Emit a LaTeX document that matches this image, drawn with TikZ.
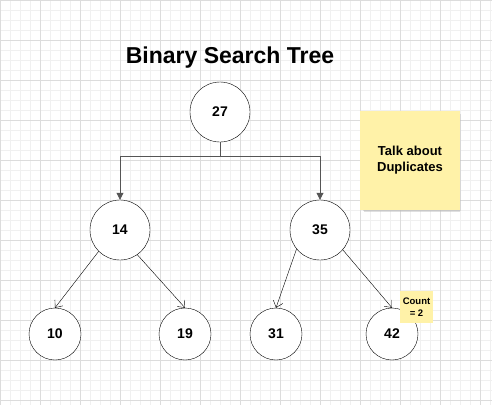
\documentclass[tikz,border=0pt]{standalone}
\usepackage{fontspec}
\setmainfont{Liberation Sans}
\definecolor{gridminor}{RGB}{240, 240, 240}
\definecolor{gridmajor}{RGB}{220, 220, 220}
\definecolor{noteyellow}{RGB}{255, 242, 168}
\definecolor{elbowgray}{RGB}{85, 85, 85}
\usetikzlibrary{arrows.meta, positioning, shadows}
\tikzset{
    treenode/.style={draw, circle, thin, fill=white, minimum size=60pt, inner sep=0pt, font=\fontsize{14}{16}\selectfont\bfseries},
    leafnode/.style={treenode, minimum size=52pt},
    stickynote/.style={rectangle, fill=noteyellow, minimum width=100pt, minimum height=99pt, align=center, font=\fontsize{13}{16}\selectfont\bfseries,
        drop shadow={shadow xshift=2pt, shadow yshift=-4pt, shadow scale=0.96, fill=black!25, opacity=0.5},
        drop shadow={shadow xshift=2pt, shadow yshift=-2pt, shadow scale=0.98, fill=black!30, opacity=0.4}},
    countnote/.style={rectangle, fill=noteyellow, minimum width=33pt, minimum height=32pt, inner sep=0pt, align=center, font=\fontsize{9.5}{12}\selectfont\bfseries},
    elbowarrow/.style={-{Triangle[length=7pt, width=7pt]}, thick, draw=elbowgray},
    childarrow/.style={-{Straight Barb[length=6pt, width=10pt]}, thin},
    titletext/.style={font=\fontsize{23}{27}\selectfont\bfseries},
}
\begin{document}
\begin{tikzpicture}[x=1pt, y=-1pt]
    \useasboundingbox (0,0) rectangle (492,405);
    % Grid
    \foreach \gx in {0,10,...,490} \draw[gridminor, line width=0.8pt] (\gx,0) -- (\gx,405);
    \foreach \gy in {0,10,...,400} \draw[gridminor, line width=0.8pt] (0,\gy) -- (492,\gy);
    \foreach \gx in {0,40,...,480} \draw[gridmajor, line width=0.8pt] (\gx,0) -- (\gx,405);
    \foreach \gy in {0,40,...,400} \draw[gridmajor, line width=0.8pt] (0,\gy) -- (492,\gy);

    % Title
    \node[titletext, anchor=base] (title) at (230,63) {Binary Search Tree};

    % Tree
    \node[treenode] (n27) at (220,112) {27};
    \node[treenode] (n14) at (120,230) {14};
    \node[treenode] (n35) at (320,230) {35};
    \node[leafnode] (n10) at (55,334) {10};
    \node[leafnode] (n19) at (185,334) {19};
    \node[leafnode] (n31) at (276,334) {31};
    \node[leafnode] (n42) at (392,334) {42};

    % Notes
    \node[stickynote] (talk) at (410,160.5) {Talk about\\Duplicates};
    \node[countnote] (count) at (416.5,307) {Count\\= 2};

    % Connectors
    \coordinate (split) at (220,156);
    \draw[thick, draw=elbowgray] (n27) -- (split);
    \draw[elbowarrow] (split) -| (n14);
    \draw[elbowarrow] (split) -| (n35);
    \draw[childarrow] (n14.225) -- (n10.north);
    \draw[childarrow] (n14.305) -- (n19.north);
    \draw[childarrow] (n35.219) -- (n31.north);
    \draw[childarrow] (n35.319) -- (n42.north);
\end{tikzpicture}
\end{document}
